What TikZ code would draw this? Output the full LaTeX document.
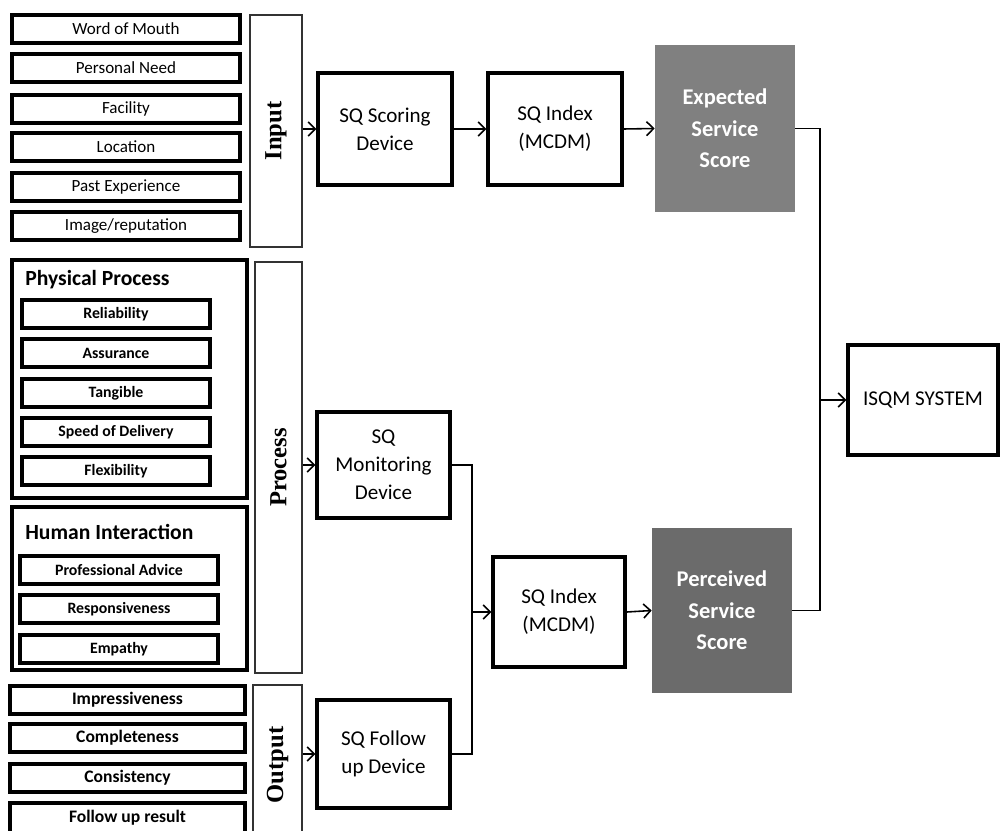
\documentclass[tikz,border=0pt]{standalone}
\usepackage{fontspec}
\setmainfont{Carlito}
\newfontfamily\barfont{Liberation Serif}
\usepackage{graphicx}
\usetikzlibrary{arrows.meta}

\begin{document}
\begin{tikzpicture}[
	x=0.02cm, y=-0.02cm,
	item/.style = {rectangle, draw=black, line width=2pt, minimum width=4.56cm, minimum height=0.56cm, inner sep=0pt, font=\fontsize{9.7}{11}\selectfont},
	sub/.style = {item, minimum width=3.76cm, font=\bfseries\fontsize{9}{11}\selectfont},
	res/.style = {item, minimum width=4.7cm, font=\bfseries\fontsize{10}{12}\selectfont},
	grp/.style = {rectangle, draw=black, line width=2pt, minimum width=4.7cm, inner sep=0pt},
	ttl/.style = {anchor=west, inner sep=0pt, font=\bfseries\fontsize{12.3}{14}\selectfont},
	bar/.style = {rectangle, draw=black!80, line width=0.7pt, inner sep=0pt, font=\barfont\bfseries\fontsize{14}{16}\selectfont},
	dev/.style = {rectangle, draw=black, line width=2pt, minimum width=2.68cm, minimum height=2.24cm, align=center, font=\fontsize{12}{16}\selectfont},
	scr/.style = {rectangle, minimum width=2.8cm, minimum height=3.34cm, align=center, text=white, font=\bfseries\fontsize{12.8}{18}\selectfont},
	r/.style = {-{Straight Barb[length=4pt, width=8pt]}, line width=0.9pt},
	l/.style = {line width=0.9pt}
	]
	\useasboundingbox (0,0) rectangle (1000,831);
	
	%Input items
	\node[item]	(in1)	at	(126, 29)	{Word of Mouth};
	\node[item]	(in2)	at	(126, 68)	{Personal Need};
	\node[item]	(in3)	at	(126, 109)	{Facility};
	\node[item]	(in4)	at	(126, 147)	{Location};
	\node[item]	(in5)	at	(126, 187)	{Past Experience};
	\node[item]	(in6)	at	(126, 226)	{Image/reputation};
	
	%Process groups
	\node[grp, minimum height=4.76cm]	(pp)	at	(129.5, 379)	{};
	\node[ttl]	(pp-t)	at	(25, 280)	{Physical Process};
	\node[sub]	(pp1)	at	(116, 314)	{Reliability};
	\node[sub]	(pp2)	at	(116, 353)	{Assurance};
	\node[sub]	(pp3)	at	(116, 393)	{Tangible};
	\node[sub]	(pp4)	at	(116, 432)	{Speed of Delivery};
	\node[sub]	(pp5)	at	(116, 471)	{Flexibility};
	
	\node[grp, minimum height=3.26cm]	(hi)	at	(129.5, 588.5)	{};
	\node[ttl]	(hi-t)	at	(25, 532)	{Human Interaction};
	\node[sub, minimum width=3.96cm]	(hi1)	at	(119, 570)	{Professional Advice};
	\node[sub, minimum width=3.96cm]	(hi2)	at	(119, 609)	{Responsiveness};
	\node[sub, minimum width=3.96cm]	(hi3)	at	(119, 649)	{Empathy};
	
	%Output items
	\node[res]	(out1)	at	(127.5, 700)	{Impressiveness};
	\node[res]	(out2)	at	(127.5, 738)	{Completeness};
	\node[res]	(out3)	at	(127.5, 778)	{Consistency};
	\node[res, minimum height=0.6cm]	(out4)	at	(127.5, 818)	{Follow up result};
	
	%Bars
	\node[bar, minimum width=1.04cm, minimum height=4.64cm]	(inbar)		at	(276, 131)		{\rotatebox{90}{Input}};
	\node[bar, minimum width=0.94cm, minimum height=8.22cm]	(procbar)	at	(278.5, 467.5)	{\rotatebox{90}{Process}};
	\node[bar, minimum width=0.98cm, minimum height=3.2cm]	(outbar)	at	(277.5, 765)	{\rotatebox{90}{Output}};
	
	%Devices
	\node[dev]	(score)		at	(385, 129)	{SQ Scoring\\Device};
	\node[dev]	(idx1)		at	(555, 129)	{SQ Index\\(MCDM)};
	\node[dev, minimum width=2.66cm, minimum height=2.12cm]	(monitor)	at	(383.5, 465)	{SQ\\Monitoring\\Device};
	\node[dev, minimum width=2.66cm, minimum height=2.16cm]	(follow)	at	(383.5, 754)	{SQ Follow\\up Device};
	\node[dev, minimum width=2.64cm, minimum height=2.2cm]	(idx2)		at	(559, 612)	{SQ Index\\(MCDM)};
	\node[dev, minimum width=3cm, minimum height=2.2cm]		(isqm)		at	(923, 400)	{ISQM SYSTEM};
	
	%Scores
	\node[scr, fill=black!50]	(expected)	at	(725, 128.5)	{Expected\\Service\\Score};
	\node[scr, fill=black!58, minimum height=3.3cm]	(perceived)	at	(722, 610.5)	{Perceived\\Service\\Score};
	
	\coordinate	(j1)	at	(820, 400);
	\coordinate	(j2)	at	(472, 612);
	
	%Lines
	\draw[r]	(inbar.east |- score.west)		to	(score.west);
	\draw[r]	(score.east)	to	(idx1.west);
	\draw[r]	(idx1.east)		to	(expected.west);
	\draw[l]	(expected.east)	-|	(j1)	|-	(perceived.east);
	\draw[r]	(j1)	to	(isqm.west);
	
	\draw[r]	(procbar.east |- monitor.west)	to	(monitor.west);
	\draw[r]	(outbar.east |- follow.west)	to	(follow.west);
	\draw[l]	(monitor.east)	-|	(j2);
	\draw[l]	(follow.east)	-|	(j2);
	\draw[r]	(j2)	to	(idx2.west);
	\draw[r]	(idx2.east)		to	(perceived.west);
	
\end{tikzpicture}
\end{document}
